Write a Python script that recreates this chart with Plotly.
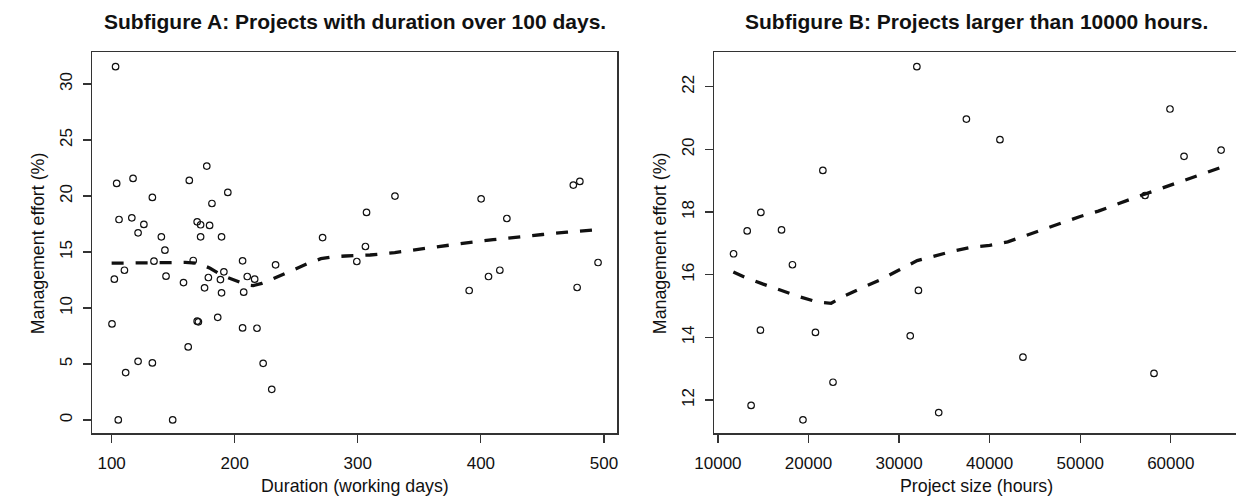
import plotly.graph_objects as go

# ---------------- Subfigure A: duration > 100 days ----------------
dur_days = [103.2, 104.1, 117.4, 106.0, 116.4, 121.5, 126.2, 133.1, 140.4, 143.3,
            134.4, 110.4, 102.2, 144.2, 158.4, 100.3, 111.4, 121.5, 133.1, 105.4,
            149.6, 163.1, 177.3, 169.5, 172.3, 179.6, 181.5, 194.4, 172.3, 189.3,
            166.3, 178.6, 175.5, 188.4, 191.2, 189.3, 169.5, 170.5, 186.2, 162.2,
            206.4, 210.2, 216.2, 207.3, 206.4, 218.1, 223.1, 230.1, 233.2, 271.4,
            299.2, 306.2, 307.1, 330.2, 400.2, 390.5, 406.2, 415.4, 421.1, 475.1,
            480.4, 478.2, 495.2]
dur_effort = [31.55, 21.12, 21.57, 17.90, 18.05, 16.71, 17.46, 19.87, 16.35, 15.16,
              14.18, 13.37, 12.57, 12.84, 12.27, 8.58, 4.23, 5.24, 5.09, 0.0,
              0.0, 21.39, 22.67, 17.69, 17.43, 17.37, 19.33, 20.32, 16.35, 16.35,
              14.24, 12.72, 11.80, 12.54, 13.23, 11.35, 8.82, 8.76, 9.17, 6.52,
              14.21, 12.81, 12.57, 11.41, 8.22, 8.19, 5.06, 2.74, 13.85, 16.29,
              14.15, 15.49, 18.53, 19.99, 19.75, 11.56, 12.81, 13.37, 17.99, 20.97,
              21.30, 11.83, 14.06]
dur_fit_x = [100, 120, 140, 160, 170, 180, 190, 200, 210, 215, 222, 230, 240, 250,
             260, 270, 280, 290, 300, 310, 330, 350, 370, 390, 410, 430, 450, 470, 496]
dur_fit_y = [14.0, 14.02, 14.05, 14.07, 14.0, 13.55, 12.9, 12.45, 12.05, 12.0, 12.2,
             12.55, 13.05, 13.5, 14.0, 14.4, 14.58, 14.64, 14.67, 14.73, 14.95, 15.27,
             15.56, 15.84, 16.1, 16.35, 16.56, 16.77, 17.0]
dur_xticks = [100, 200, 300, 400, 500]
dur_yticks = [0, 5, 10, 15, 20, 25, 30]

# ---------------- Subfigure B: size > 10000 hours ----------------
size_hours = [11723, 13230, 14737, 17020, 18226, 14694, 13661, 19388, 20766, 21585,
              22705, 31964, 32136, 31232, 34376, 37433, 41137, 43678, 57158, 58148,
              59914, 61464, 65556]
size_effort = [16.67, 17.40, 17.99, 17.43, 16.32, 14.23, 11.83, 11.37, 14.16, 19.33,
               12.57, 22.64, 15.50, 14.05, 11.60, 20.97, 20.31, 13.37, 18.53, 12.85,
               21.29, 19.78, 19.98]
size_fit_x = [11700, 13000, 15000, 17000, 19000, 21000, 22500, 24000, 26000, 28000,
              30000, 32000, 34000, 36000, 38000, 40000, 42000, 44000, 46000, 48000,
              50000, 52000, 54000, 56000, 58000, 60000, 62000, 64000, 65500]
size_fit_y = [16.09, 15.92, 15.70, 15.50, 15.30, 15.13, 15.09, 15.33, 15.60, 15.85,
              16.15, 16.45, 16.60, 16.76, 16.88, 16.94, 17.05, 17.25, 17.46, 17.67,
              17.86, 18.03, 18.25, 18.46, 18.66, 18.86, 19.05, 19.25, 19.42]
size_xticks = [10000, 20000, 30000, 40000, 50000, 60000]
size_yticks = [12, 14, 16, 18, 20, 22]

titles = ["Subfigure A: Projects with duration over 100 days.",
          "Subfigure B: Projects larger than 10000 hours."]
xtitles = ["Duration (working days)", "Project size (hours)"]
ytitle = "Management effort (%)"

# ---------------- layout geometry (pixels) ----------------
W, H = 1237, 499
FONT = "Liberation Sans, Arial, Helvetica, sans-serif"
INK = "#111111"
LINE = "#333333"

def px_x(p):
    return p / W

def px_y(p):
    return (H - p) / H

top_px, bot_px = 52.3, 433.3
A_left, A_right = 73.3, 607.7
B_left, B_right = 706.0, 1237.0

fig = go.Figure()

marker = dict(symbol="circle-open", size=6.5, color=INK, line=dict(width=1.2, color=INK))
fitline = dict(color=INK, width=3.3, dash="12px,12px")

fig.add_trace(go.Scatter(x=dur_days, y=dur_effort, mode="markers", marker=marker,
                         xaxis="x", yaxis="y", showlegend=False, hoverinfo="skip"))
fig.add_trace(go.Scatter(x=dur_fit_x, y=dur_fit_y, mode="lines", line=fitline,
                         xaxis="x", yaxis="y", showlegend=False, hoverinfo="skip"))
fig.add_trace(go.Scatter(x=size_hours, y=size_effort, mode="markers", marker=marker,
                         xaxis="x2", yaxis="y2", showlegend=False, hoverinfo="skip"))
fig.add_trace(go.Scatter(x=size_fit_x, y=size_fit_y, mode="lines", line=fitline,
                         xaxis="x2", yaxis="y2", showlegend=False, hoverinfo="skip"))

tickfont = dict(family=FONT, size=17, color=INK)

def xaxis(domain, rng, ticks, anchor):
    return dict(domain=domain, range=rng, tickvals=ticks, ticktext=[str(t) for t in ticks],
                showgrid=False, zeroline=False, showline=True, linecolor=LINE, linewidth=1.2,
                mirror=True, ticks="outside", ticklen=8, tickwidth=1.2, tickcolor=LINE,
                tickfont=tickfont, anchor=anchor, fixedrange=True, ticklabelstandoff=6)

def yaxis(domain, rng, ticks, anchor, mirror):
    return dict(domain=domain, range=rng, tickvals=ticks, ticktext=[str(t) for t in ticks],
                showgrid=False, zeroline=False, showline=True, linecolor=LINE, linewidth=1.2,
                mirror=mirror, ticks="outside", ticklen=8, tickwidth=1.2, tickcolor=LINE,
                tickfont=tickfont, tickangle=-90, anchor=anchor, fixedrange=True,
                ticklabelstandoff=4)

ydom = [px_y(bot_px), px_y(top_px)]
fig.update_layout(
    width=W, height=H,
    margin=dict(l=0, r=0, t=0, b=0, pad=0),
    paper_bgcolor="white", plot_bgcolor="white",
    hovermode=False,
    xaxis=xaxis([px_x(A_left), px_x(A_right)], [84.1, 510.9], dur_xticks, "y"),
    yaxis=yaxis(ydom, [-1.19, 32.83], dur_yticks, "x", True),
    xaxis2=xaxis([px_x(B_left), 1.0], [9566, 67202], size_xticks, "y2"),
    yaxis2=yaxis(ydom, [10.94, 23.10], size_yticks, "x2", False),
)

A_center = (A_left + A_right) / 2
B_center = (B_left + 1240.0) / 2
ann = []
for cx, t in zip([A_center, B_center], titles):
    ann.append(dict(text="<b>" + t + "</b>", x=px_x(cx), y=px_y(21.5), xref="paper", yref="paper",
                    xanchor="center", yanchor="middle", showarrow=False,
                    font=dict(family=FONT, size=21, color=INK)))
for cx, t in zip([A_center, B_center], xtitles):
    ann.append(dict(text=t, x=px_x(cx), y=px_y(486), xref="paper", yref="paper",
                    xanchor="center", yanchor="middle", showarrow=False,
                    font=dict(family=FONT, size=17.8, color=INK)))
for lx in [A_left - 55.6, B_left - 55.6]:
    ann.append(dict(text=ytitle, x=px_x(lx), y=px_y((top_px + bot_px) / 2), xref="paper",
                    yref="paper", xanchor="center", yanchor="middle", textangle=-90,
                    showarrow=False, font=dict(family=FONT, size=17.8, color=INK)))
fig.update_layout(annotations=ann)

fig.write_html(
    "out.html",
    config={"displayModeBar": False, "staticPlot": True},
    post_script="document.body.style.margin='0';document.body.style.padding='0';"
                "document.body.style.overflow='hidden';",
)
